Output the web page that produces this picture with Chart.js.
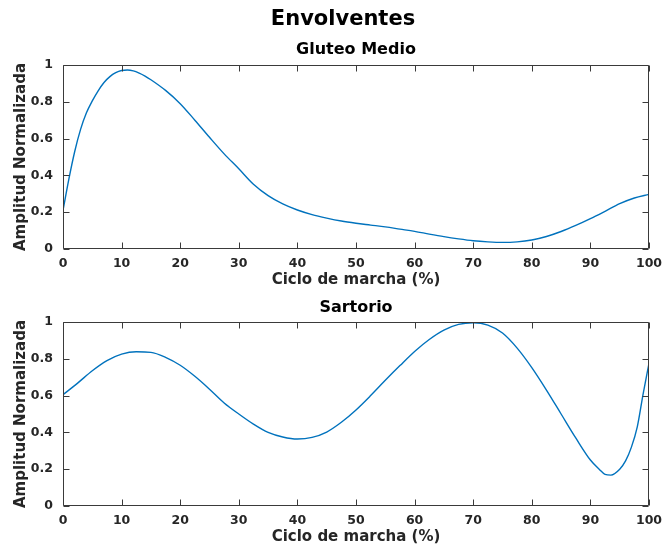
<!DOCTYPE html>
<html><head><meta charset="utf-8">
<script src="https://cdn.jsdelivr.net/npm/chart.js@4/dist/chart.umd.min.js"></script>
<style>
html,body{margin:0;padding:0;background:#fff;}
#wrap{position:relative;width:667px;height:552px;overflow:hidden;background:#fff;}
canvas{position:absolute;left:0;}
#figTitle{position:absolute;top:6px;left:243px;width:200px;text-align:center;font-family:'DejaVu Sans',sans-serif;font-weight:bold;font-size:21px;line-height:25px;color:#000;}
</style></head><body>
<div id="wrap">
<canvas id="c1" width="667" height="295" style="top:0px"></canvas>
<canvas id="c2" width="667" height="257" style="top:295px"></canvas>
<div id="figTitle"></div>
</div>
<script>
const figureTitle = "Envolventes";
const subplotTitles = ["Gluteo Medio", "Sartorio"];
const xAxisTitle = "Ciclo de marcha (%)";
const yAxisTitle = "Amplitud Normalizada";

const gluteoX = [0,1,2,3,4,5,6,7,8,9,10,11,12,13,14,15,17.5,20,22.5,25,27.5,30,32.5,35,37.5,40,42.5,45,47.5,50,52.5,55,57.5,60,62.5,65,67.5,70,72.5,75,77.5,80,82.5,85,87.5,90,92.5,95,97.5,100];
const gluteoY = [0.21,0.38,0.53,0.65,0.74,0.805,0.86,0.905,0.937,0.958,0.97,0.973,0.968,0.956,0.94,0.92,0.862,0.79,0.70,0.607,0.517,0.436,0.352,0.29,0.245,0.212,0.187,0.168,0.152,0.140,0.130,0.120,0.108,0.096,0.081,0.067,0.055,0.045,0.039,0.036,0.039,0.049,0.068,0.095,0.128,0.165,0.205,0.246,0.277,0.297];

const sartorioX = [0,2.5,5,7.5,10,12.5,15,17.5,20,22.5,25,27.5,30,32.5,35,37.5,40,42.5,45,47.5,50,52.5,55,57.5,60,62.5,65,67.5,70,72.5,75,77.5,80,82.5,85,87.5,90,91.5,92.5,93.5,95,96,97,98,99,100];
const sartorioY = [0.605,0.668,0.735,0.79,0.825,0.838,0.835,0.808,0.765,0.705,0.635,0.56,0.50,0.445,0.40,0.375,0.364,0.373,0.402,0.455,0.522,0.60,0.683,0.763,0.84,0.905,0.956,0.987,0.996,0.983,0.94,0.858,0.752,0.63,0.50,0.37,0.25,0.2,0.172,0.168,0.2,0.245,0.32,0.43,0.61,0.775];

const xTicks = [0,10,20,30,40,50,60,70,80,90,100];
const yTicks = [0,0.2,0.4,0.6,0.8,1];

const TXT = '#262626';
const FONT = "'DejaVu Sans', sans-serif";

document.getElementById('figTitle').textContent = figureTitle;

const boxTicks = {
  id: 'boxTicks',
  afterDraw(chart) {
    const {ctx, chartArea: a, scales: {x, y}} = chart;
    ctx.save();
    ctx.strokeStyle = '#3a3a3a';
    ctx.lineWidth = 1;
    const L = Math.round(a.left) + 0.5, R = Math.round(a.right) - 0.5;
    const T = Math.round(a.top) + 0.5, B = Math.round(a.bottom) - 0.5;
    ctx.beginPath();
    ctx.rect(L, T, R - L, B - T);
    const tl = 6;
    xTicks.forEach(v => {
      const px = Math.round(x.getPixelForValue(v)) + 0.5;
      ctx.moveTo(px, B); ctx.lineTo(px, B - tl);
      ctx.moveTo(px, T); ctx.lineTo(px, T + tl);
    });
    yTicks.forEach(v => {
      const py = Math.round(y.getPixelForValue(v)) + 0.5;
      ctx.moveTo(L, py); ctx.lineTo(L + tl, py);
      ctx.moveTo(R, py); ctx.lineTo(R - tl, py);
    });
    ctx.stroke();
    ctx.restore();
  }
};

function makeChart(id, xs, ys, subTitle, topPad, subPad) {
  const data = xs.map((xv, i) => ({x: xv, y: ys[i]}));
  return new Chart(document.getElementById(id), {
    type: 'line',
    data: {datasets: [{
      data, borderColor: '#0072BD', borderWidth: 1.4, pointRadius: 0,
      fill: false, cubicInterpolationMode: 'monotone', tension: 0.4
    }]},
    options: {
      responsive: false, animation: false, devicePixelRatio: 1,
      layout: {padding: {left: 0, right: 18, top: topPad, bottom: 0}},
      plugins: {
        legend: {display: false},
        tooltip: {enabled: false},
        title: {
          display: true, text: subTitle, color: '#000', fullSize: false,
          font: {family: FONT, size: 16, weight: 'bold', lineHeight: 1.2},
          padding: subPad
        }
      },
      scales: {
        x: {
          type: 'linear', min: 0, max: 100,
          afterFit: s => { s.height = 46; s.paddingLeft = 0; s.paddingRight = 0; },
          grid: {display: false, drawTicks: false},
          border: {display: false},
          ticks: {stepSize: 10, padding: 7.5, color: TXT, maxRotation: 0,
            font: {family: FONT, size: 12.5, weight: 'bold', lineHeight: 1.2}},
          title: {display: true, text: xAxisTitle, color: TXT,
            font: {family: FONT, size: 15, weight: 'bold', lineHeight: 1.2},
            padding: {top: 0, bottom: 6}}
        },
        y: {
          min: 0, max: 1,
          afterFit: s => { s.width = 63; s.paddingTop = 0; s.paddingBottom = 0; },
          grid: {display: false, drawTicks: false},
          border: {display: false},
          ticks: {stepSize: 0.2, padding: 10, color: TXT,
            callback: v => String(Number(v.toFixed(1))),
            font: {family: FONT, size: 12.5, weight: 'bold', lineHeight: 1.2}},
          title: {display: true, text: yAxisTitle, color: TXT,
            font: {family: FONT, size: 15, weight: 'bold', lineHeight: 1.2},
            padding: {top: 12, bottom: 0}}
        }
      }
    },
    plugins: [boxTicks]
  });
}

makeChart('c1', gluteoX, gluteoY, subplotTitles[0], 38, {top: 2.4, bottom: 5.4});
makeChart('c2', sartorioX, sartorioY, subplotTitles[1], 0, {top: 3.1, bottom: 4.7});
</script>
</body></html>
